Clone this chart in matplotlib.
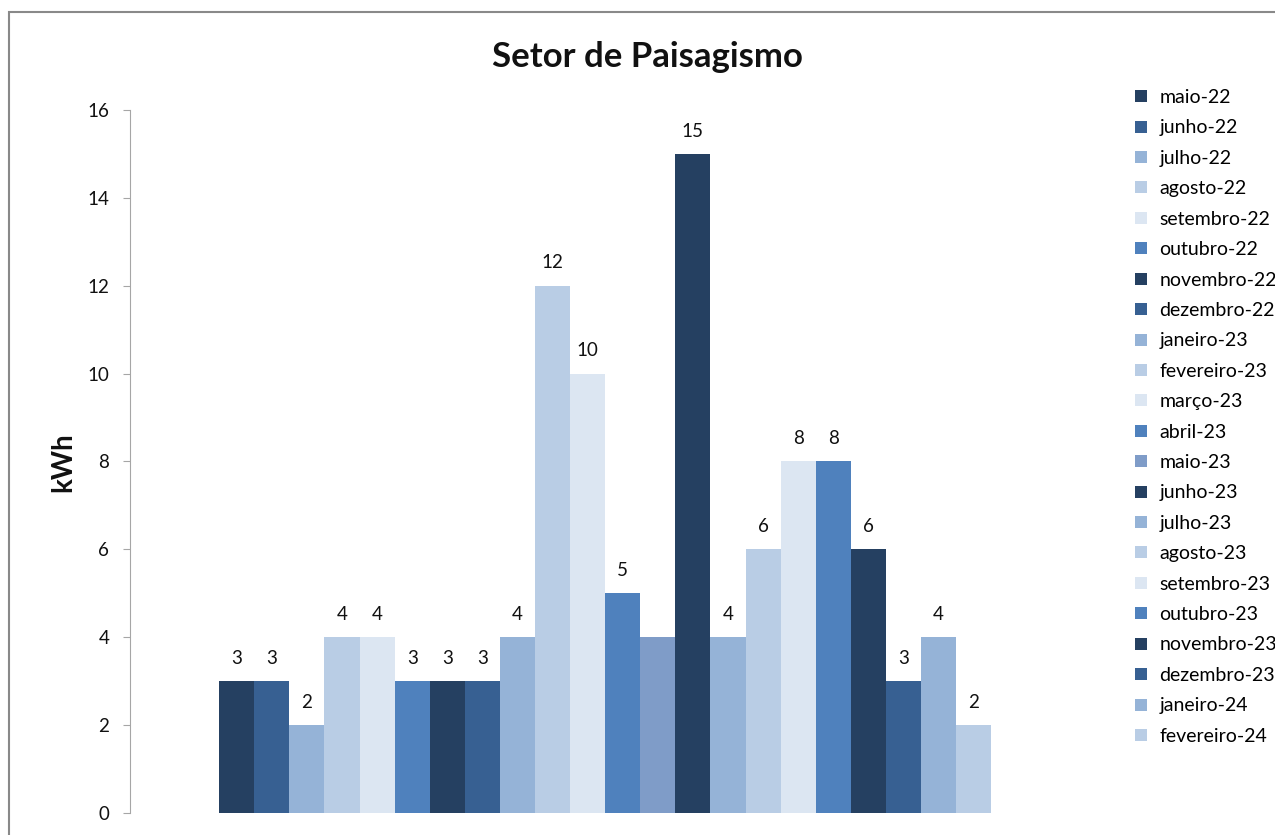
import matplotlib.pyplot as plt
from matplotlib.lines import Line2D
from matplotlib.patches import Rectangle

#===============================================================================
# Data
#===============================================================================
months = ['maio-22', 'junho-22', 'julho-22', 'agosto-22', 'setembro-22', 'outubro-22',
          'novembro-22', 'dezembro-22', 'janeiro-23', 'fevereiro-23', 'março-23', 'abril-23',
          'maio-23', 'junho-23', 'julho-23', 'agosto-23', 'setembro-23', 'outubro-23',
          'novembro-23', 'dezembro-23', 'janeiro-24', 'fevereiro-24']
kwh = [3, 3, 2, 4, 4, 3, 3, 3, 4, 12, 10, 5, 4, 15, 4, 6, 8, 8, 6, 3, 4, 2]
show_label = [True] * 22
show_label[12] = False  # maio-23 has no label in the original

colors = ['#254061', '#376092', '#95B3D7', '#B9CDE5', '#DCE6F2', '#4F81BD',
          '#254061', '#376092', '#95B3D7', '#B9CDE5', '#DCE6F2', '#4F81BD',
          '#7F9CC8', '#254061', '#95B3D7', '#B9CDE5', '#DCE6F2', '#4F81BD',
          '#254061', '#376092', '#95B3D7', '#B9CDE5']

plt.rcParams['font.family'] = ['Lato', 'DejaVu Sans']

fig = plt.figure(figsize=(12.75, 8.35), dpi=100)
ax = fig.add_axes([130/1275, 1 - 813/835, 950/1275, (813 - 110)/835])

x = list(range(len(months)))
ax.bar(x, kwh, width=1.0, color=colors, linewidth=0)

for xi, v, s in zip(x, kwh, show_label):
    if s:
        ax.annotate(str(v), (xi, v), xytext=(0, 16.5), textcoords='offset points',
                    ha='center', va='center', fontsize=13.5, color='#111111')

ax.set_xlim(-3.04, 24.03)
ax.set_ylim(0, 16)
ax.set_yticks(range(0, 17, 2))
ax.set_xticks([])
for sp in ['top', 'right', 'bottom']:
    ax.spines[sp].set_visible(False)
ax.spines['left'].set_color('#A6A6A6')
ax.tick_params(axis='y', length=5, color='#A6A6A6', pad=10, labelsize=13.5, labelcolor='#111111')

fig.text(647/1275, 1 - 57/835, 'Setor de Paisagismo', ha='center', va='center',
         fontsize=25, fontweight='bold', color='#111111')
fig.text(63/1275, 1 - 462/835, 'kWh', ha='center', va='center', rotation=90,
         fontsize=20, fontweight='bold', color='#111111')

handles = [Line2D([], [], marker='s', linestyle='none', markersize=8,
                  markerfacecolor=c, markeredgewidth=0) for c in colors]
leg = fig.legend(handles, months, loc='upper left', bbox_to_anchor=(1131/1275, 1 - 89/835),
                 frameon=False, fontsize=14, handlelength=1.0, handletextpad=0.45,
                 labelspacing=0.69, borderaxespad=0, borderpad=0)

fig.patches.append(Rectangle((9/1275, -0.1), 2, 1.1 - 12/835, transform=fig.transFigure,
                             fill=False, edgecolor='#898989', linewidth=1.5))

plt.savefig('out.png', dpi=100)
